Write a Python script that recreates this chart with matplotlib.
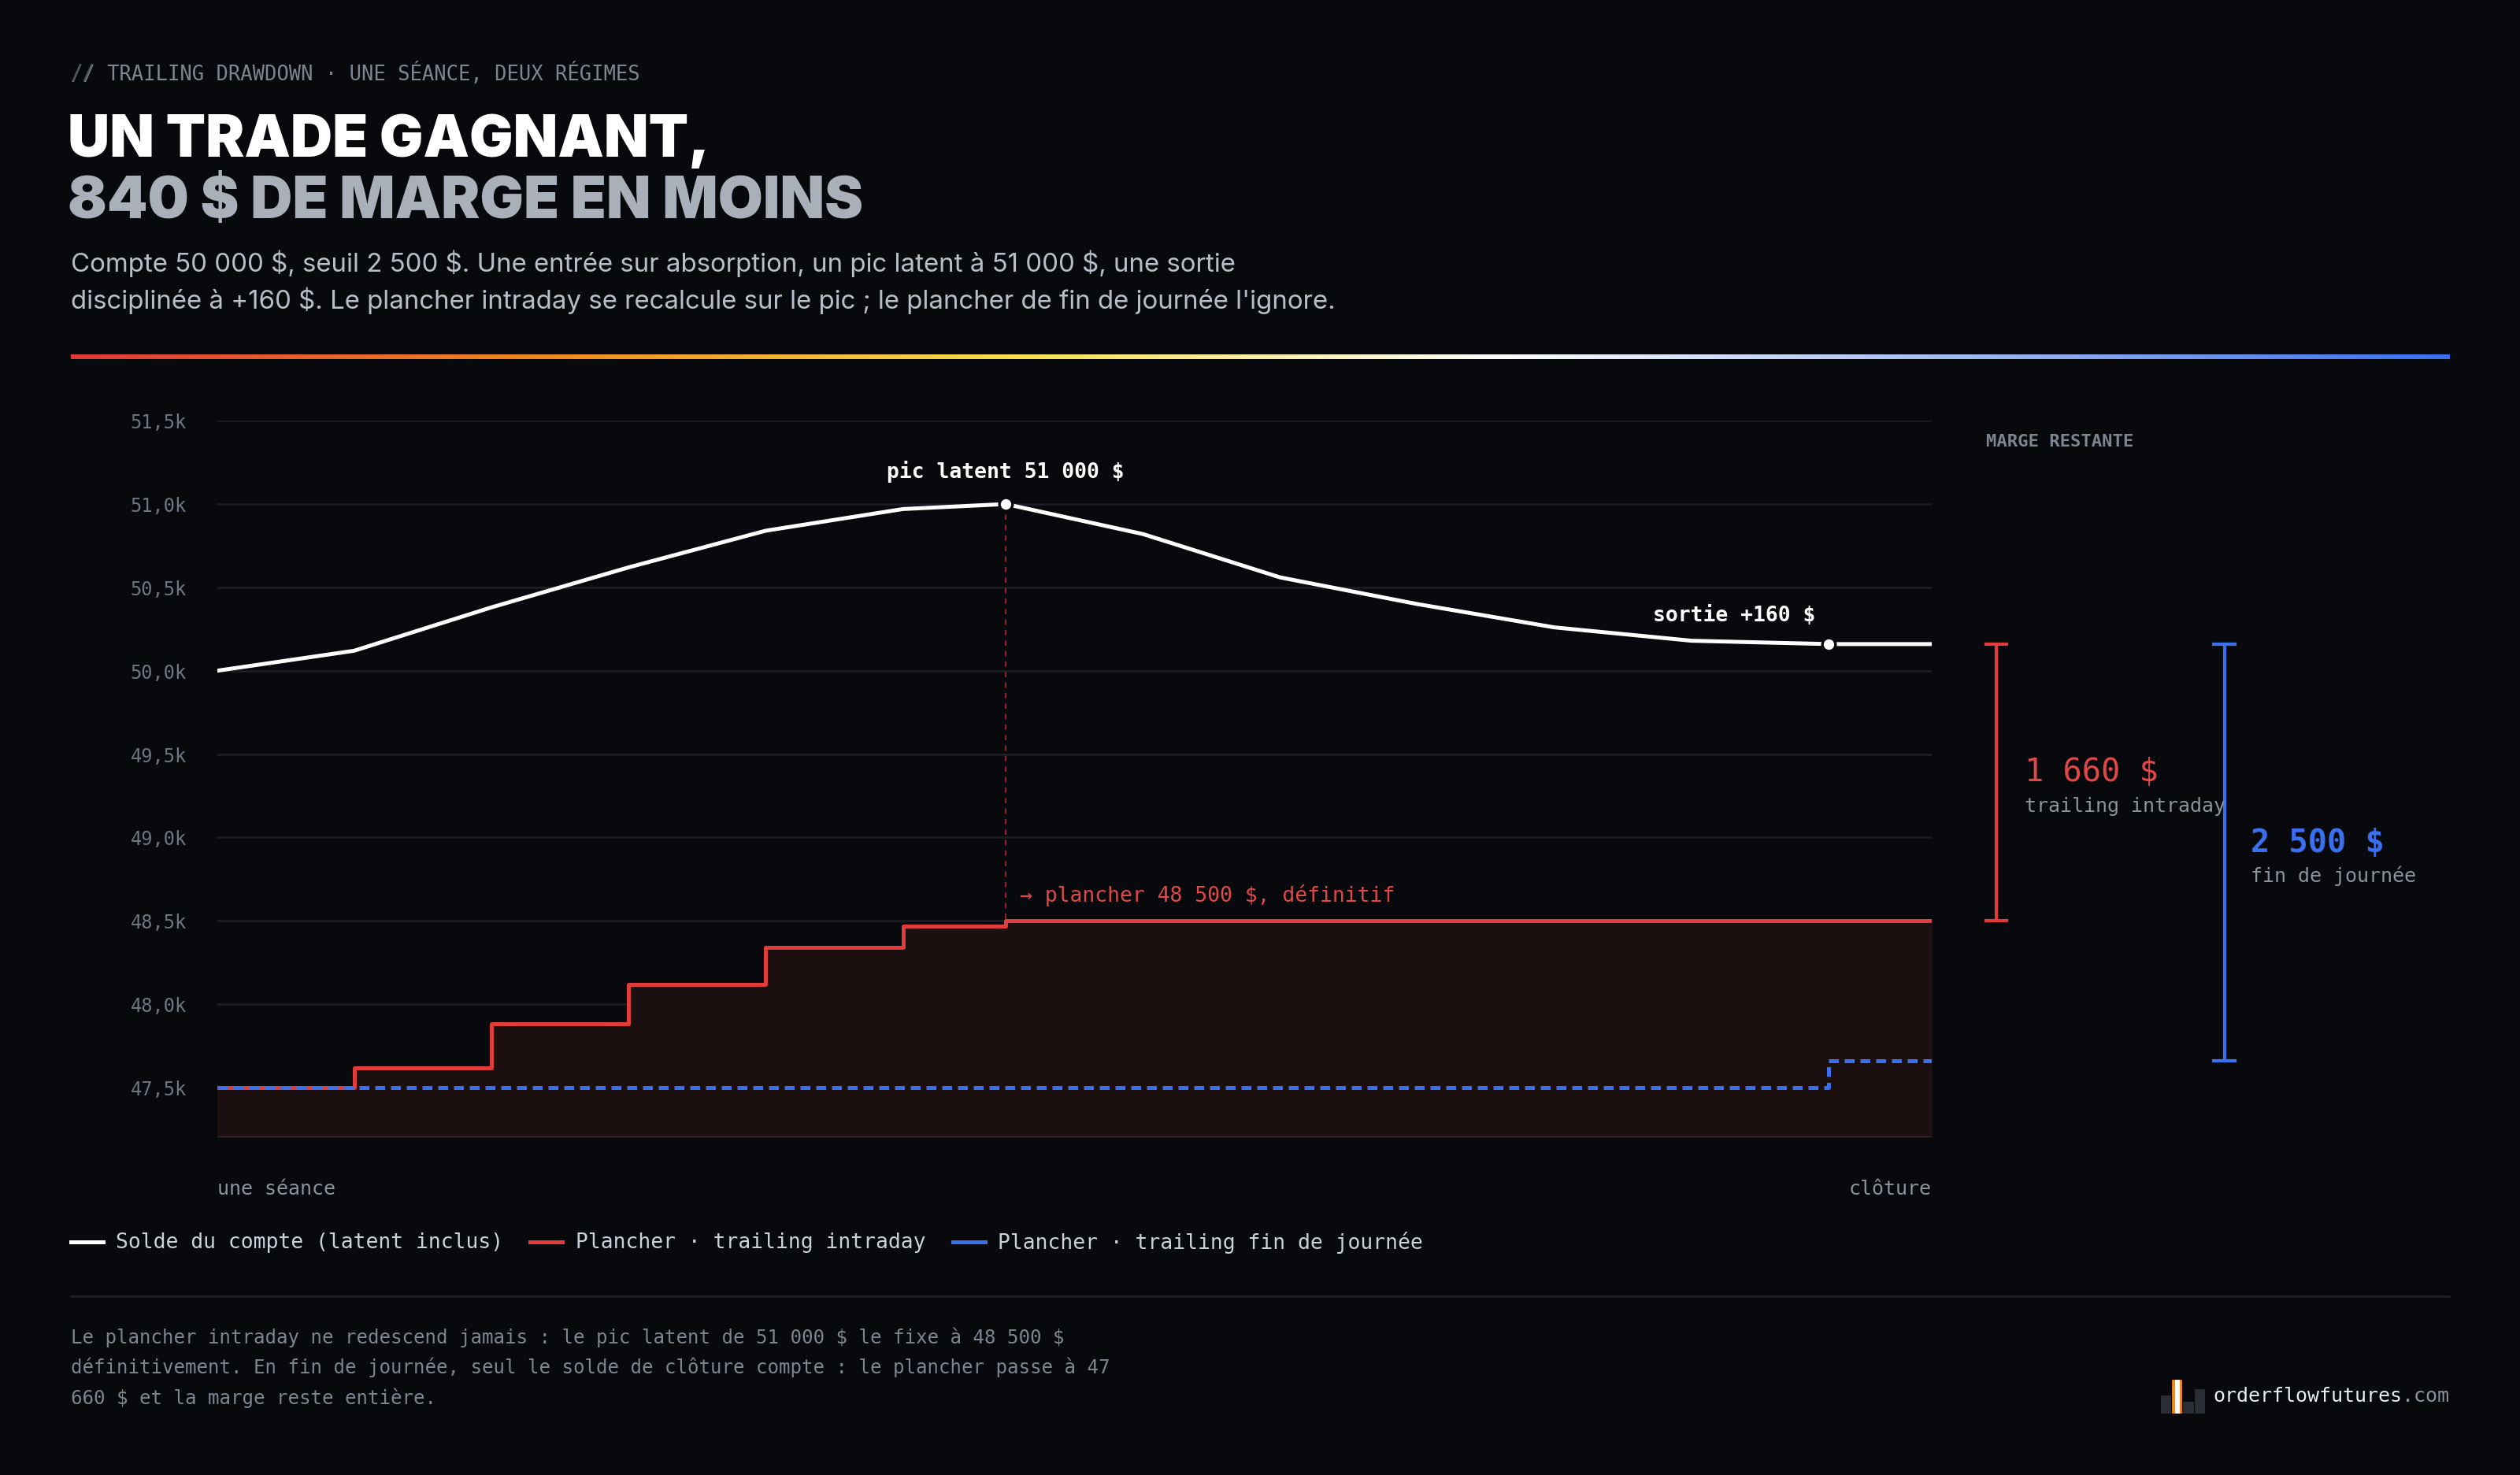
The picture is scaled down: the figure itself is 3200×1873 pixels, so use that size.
import numpy as np
import matplotlib
matplotlib.use("Agg")
import matplotlib.pyplot as plt
from matplotlib.colors import LinearSegmentedColormap
import matplotlib.transforms as mtrans

plt.rcParams["text.parse_math"] = False

# data
x = [0, 1, 2, 3, 4, 5, 5.75, 6.75, 7.75, 8.75, 9.75, 10.75, 11.75, 12.5]
balance = [50000, 50120, 50380, 50620, 50840, 50970, 51000, 50820, 50560, 50400, 50260, 50180, 50160, 50160]
intraday_floor = [47500, 47620, 47880, 48120, 48340, 48470, 48500, 48500, 48500, 48500, 48500, 48500, 48500, 48500]
eod_floor = [47500] * 12 + [47660, 47660]
yticks = [47500, 48000, 48500, 49000, 49500, 50000, 50500, 51000, 51500]
ytick_labels = ["47,5k", "48,0k", "48,5k", "49,0k", "49,5k", "50,0k", "50,5k", "51,0k", "51,5k"]

BG = "#08090c"
W, H = 1568, 918
fig = plt.figure(figsize=(16, 16 * H / W), dpi=200)
fig.patch.set_facecolor(BG)
MONO = "DejaVu Sans Mono"
SANS = "Inter"

def fx(px): return px / W
def fy(py): return 1 - py / H

fig.text(fx(44), fy(46), "// TRAILING DRAWDOWN · UNE SÉANCE, DEUX RÉGIMES", family=MONO, color="#7d8590", fontsize=9.2, va="center")
fig.text(fx(44), fy(46), "//", family=MONO, color="#4a5058", fontsize=9.2, va="center")
fig.text(fx(42), fy(88), "UN TRADE GAGNANT,", family=SANS, weight="black", color="white", fontsize=26.5, va="center")
fig.text(fx(42), fy(126), "840 $ DE MARGE EN MOINS", family=SANS, weight="black", color="#a9b0ba", fontsize=26.5, va="center")
fig.text(fx(44), fy(164), "Compte 50 000 $, seuil 2 500 $. Une entrée sur absorption, un pic latent à 51 000 $, une sortie",
         family=SANS, color="#b8bec7", fontsize=11.9, va="center")
fig.text(fx(44), fy(187), "disciplinée à +160 $. Le plancher intraday se recalcule sur le pic ; le plancher de fin de journée l'ignore.",
         family=SANS, color="#b8bec7", fontsize=11.9, va="center")

# gradient rule
gax = fig.add_axes([fx(44), fy(223.5), fx(1524) - fx(44), 3 / H])
cmap = LinearSegmentedColormap.from_list("g", ["#e03a3a", "#f08a20", "#f5e050", "#ffffff", "#a0b8f0", "#3a6ff0"])
gax.imshow(np.linspace(0, 1, 500)[None, :], aspect="auto", cmap=cmap)
gax.axis("off")

ax = fig.add_axes([fx(135), fy(708), fx(1202) - fx(135), (708 - 262) / H])
ax.set_facecolor(BG)
ax.set_xlim(0, 12.5)
ax.set_ylim(47200, 51500)
for s in ax.spines.values():
    s.set_visible(False)
ax.axhline(47200, color="#2a2e35", lw=1.2)
ax.set_yticks(yticks)
ax.set_yticklabels(ytick_labels, family=MONO, color="#6e7681", fontsize=8.5)
ax.tick_params(axis="y", length=0, pad=14)
ax.set_xticks([])
ax.grid(axis="y", color="#1c1f25", lw=0.9)
ax.set_axisbelow(True)

ax.fill_between(x, intraday_floor, 47200, step="post", color="#1c0f10", zorder=1)
ax.step(x, intraday_floor, where="post", color="#e03c3c", lw=1.8, zorder=3)
ax.step(x, eod_floor, where="post", color="#3a6ff0", lw=1.8, ls=(0, (2.5, 1.5)), zorder=4)
ax.plot(x, balance, color="white", lw=1.8, zorder=5)
ax.plot([x[6]], [balance[6]], "o", ms=6, color="white", mec=BG, mew=1.2, zorder=6)
ax.plot([x[12]], [balance[12]], "o", ms=6, color="white", mec=BG, mew=1.2, zorder=6)
ax.plot([x[6], x[6]], [balance[6], intraday_floor[6]], color="#e03c3c", lw=0.8, ls=(0, (3, 3)), alpha=0.6, zorder=2)
ax.text(x[6], balance[6] + 130, "pic latent 51 000 $", family=MONO, color="white", fontsize=9.5, ha="center", va="bottom", weight="bold")
ax.text(x[12] - 0.1, balance[12] + 110, "sortie +160 $", family=MONO, color="white", fontsize=9.5, ha="right", va="bottom", weight="bold")
ax.text(x[6] + 0.1, 48590, "→ plancher 48 500 $, définitif", family=MONO, color="#e04848", fontsize=9.5, ha="left", va="bottom")
ax.text(0, 46950, "une séance", family=MONO, color="#8b939c", fontsize=9, ha="left", va="top")
ax.text(12.5, 46950, "clôture", family=MONO, color="#8b939c", fontsize=9, ha="right", va="top")

# margin brackets
tr = mtrans.blended_transform_factory(ax.transAxes, ax.transData)
def bracket(xa, y0, y1, c):
    ax.plot([xa, xa], [y0, y1], color=c, lw=1.5, transform=tr, clip_on=False)
    for yy in (y0, y1):
        ax.plot([xa - 0.006, xa + 0.006], [yy, yy], color=c, lw=1.5, transform=tr, clip_on=False)
bracket(1.0375, intraday_floor[-1], balance[-1], "#e03c3c")
bracket(1.1706, eod_floor[-1], balance[-1], "#3a6ff0")
ax.text(1.054, 49390, "1 660 $", transform=tr, family=MONO, color="#e04848", fontsize=14.5, va="center")
ax.text(1.054, 49190, "trailing intraday", transform=tr, family=MONO, color="#8b939c", fontsize=9, va="center")
ax.text(1.186, 48970, "2 500 $", transform=tr, family=MONO, color="#3a6ff0", fontsize=14.5, va="center", weight="bold")
ax.text(1.186, 48770, "fin de journée", transform=tr, family=MONO, color="#8b939c", fontsize=9, va="center")
fig.text(fx(1236), fy(275), "MARGE RESTANTE", family=MONO, color="#7d8590", fontsize=8, va="center", weight="bold")

# legend
ly = fy(773)
items = [(44, "#ffffff", "Solde du compte (latent inclus)"),
         (330, "#e03c3c", "Plancher · trailing intraday"),
         (593, "#3a6ff0", "Plancher · trailing fin de journée")]
for px, c, lab in items:
    fig.add_artist(plt.Line2D([fx(px), fx(px + 20)], [ly, ly], color=c, lw=1.8))
    fig.text(fx(px + 28), ly, lab, family=MONO, color="#c9d1d9", fontsize=9.5, va="center")

fig.add_artist(plt.Line2D([fx(44), fx(1524)], [fy(807), fy(807)], color="#1f232a", lw=0.9))
foot = ["Le plancher intraday ne redescend jamais : le pic latent de 51 000 $ le fixe à 48 500 $",
        "définitivement. En fin de journée, seul le solde de clôture compte : le plancher passe à 47",
        "660 $ et la marge reste entière."]
for i, l in enumerate(foot):
    fig.text(fx(44), fy(832 + 19 * i), l, family=MONO, color="#7d8590", fontsize=8.7, va="center")

# logo
for px, h, c in [(1345, 10, "#2a2f37"), (1352, 20, "#f08a20"), (1359, 6, "#2a2f37"), (1366, 14, "#2a2f37")]:
    fig.add_artist(plt.Rectangle((fx(px), fy(879)), fx(5), h / H, color=c))
fig.add_artist(plt.Rectangle((fx(1354), fy(879)), fx(1.5), 20 / H, color="white"))
fig.text(fx(1524), fy(869), ".com", family=MONO, color="#8b939c", fontsize=9, va="center", ha="right")
fig.text(fx(1524) - 4 * 0.602 * 9 / 72 / 16, fy(869), "orderflowfutures", family=MONO, color="#e6edf3",
         fontsize=9, va="center", ha="right")

fig.savefig("out.png", dpi=200, facecolor=BG)
